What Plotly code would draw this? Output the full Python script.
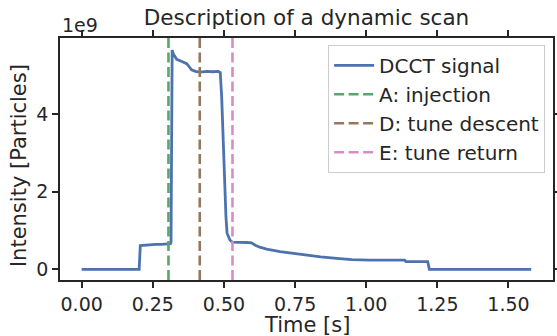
import plotly.graph_objects as go

# ---- data ----
time_s = [0.000, 0.202, 0.206, 0.220, 0.240, 0.260, 0.280, 0.300, 0.312, 0.314,
          0.318, 0.322, 0.334, 0.350, 0.369, 0.380, 0.386, 0.400, 0.415, 0.440,
          0.460, 0.480, 0.487, 0.492, 0.500, 0.507, 0.511, 0.521, 0.529, 0.540,
          0.560, 0.580, 0.597, 0.610, 0.626, 0.650, 0.697, 0.740, 0.778, 0.840,
          0.896, 0.950, 1.013, 1.060, 1.100, 1.135, 1.140, 1.180, 1.216, 1.222,
          1.580]
intensity = [0.00, 0.00, 0.61, 0.62, 0.63, 0.64, 0.64, 0.65, 0.66, 0.70,
             5.65, 5.55, 5.41, 5.36, 5.30, 5.20, 5.14, 5.10, 5.08, 5.10,
             5.09, 5.10, 5.07, 4.45, 2.73, 1.36, 0.93, 0.755, 0.70, 0.70,
             0.69, 0.69, 0.68, 0.62, 0.57, 0.52, 0.455, 0.41, 0.37, 0.32,
             0.28, 0.25, 0.235, 0.228, 0.228, 0.235, 0.200, 0.198, 0.200, 0.00,
             0.00]
intensity = [v * 1e9 for v in intensity]

event_names = ["A: injection", "D: tune descent", "E: tune return"]
event_times = [0.305, 0.415, 0.530]
event_colors = ["#55A868", "#937860", "#DA8BC3"]

x_ticks = [0.0, 0.25, 0.5, 0.75, 1.0, 1.25, 1.5]
y_ticks = [0, 2e9, 4e9]
y_ticktext = ["0", "2", "4"]

TXT = "#262626"
FONT = "DejaVu Sans"

fig = go.Figure()
fig.add_trace(go.Scatter(
    x=time_s, y=intensity, mode="lines", name="DCCT signal",
    line=dict(color="#4C72B0", width=2.8), legendgroup="g0", legendrank=1,
))

for i, (n, t, c) in enumerate(zip(event_names, event_times, event_colors)):
    fig.add_shape(type="line", xref="x", yref="y domain", x0=t, x1=t, y0=0, y1=1,
                  line=dict(color=c, width=2.6, dash="10px,4.5px"),
                  showlegend=True, name=n, legendgroup=f"g{i+1}", legendrank=i + 2)

axis_common = dict(
    showline=True, linecolor=TXT, linewidth=1.5, mirror="ticks",
    ticks="outside", ticklen=6, tickwidth=1.5, tickcolor=TXT,
    showgrid=False, zeroline=False, automargin=False,
    tickfont=dict(family=FONT, size=19, color=TXT),
)

fig.update_xaxes(range=[-0.0762, 1.6565], tickvals=x_ticks, tickformat=".2f", **axis_common)
fig.update_yaxes(range=[-0.276e9, 5.96e9], tickvals=y_ticks, ticktext=y_ticktext, **axis_common)

fig.add_annotation(text="1e9", xref="paper", yref="paper", x=0.0, y=1.0,
                   xanchor="left", yanchor="bottom", showarrow=False,
                   font=dict(family=FONT, size=19, color=TXT))
fig.add_annotation(text="Time [s]", xref="paper", yref="paper", x=0.5, y=-0.186,
                   xanchor="center", yanchor="middle", showarrow=False,
                   font=dict(family=FONT, size=21, color=TXT))
fig.add_annotation(text="Intensity [Particles]", xref="paper", yref="paper", x=-0.083, y=0.471,
                   xanchor="center", yanchor="middle", showarrow=False, textangle=-90,
                   font=dict(family=FONT, size=21, color=TXT))

fig.update_layout(
    width=557, height=336,
    margin=dict(l=60, r=4, t=38, b=56),
    plot_bgcolor="white", paper_bgcolor="white",
    font=dict(family=FONT, color=TXT),
    title=dict(text="Description of a dynamic scan", x=0.5, xanchor="center", xref="paper",
               y=1 - 17 / 336, yanchor="middle", yref="container",
               font=dict(family=FONT, size=21.5, color=TXT)),
    legend=dict(x=0.984, y=0.972, xanchor="right", yanchor="top",
                bgcolor="rgba(255,255,255,0.8)", bordercolor="#cccccc", borderwidth=1,
                font=dict(family=FONT, size=20, color=TXT), tracegroupgap=0,
                itemwidth=40),
    showlegend=True,
)

fig.write_html("out.html", config={"displayModeBar": False},
               post_script="document.body.style.margin='0';document.body.style.overflow='hidden';")
